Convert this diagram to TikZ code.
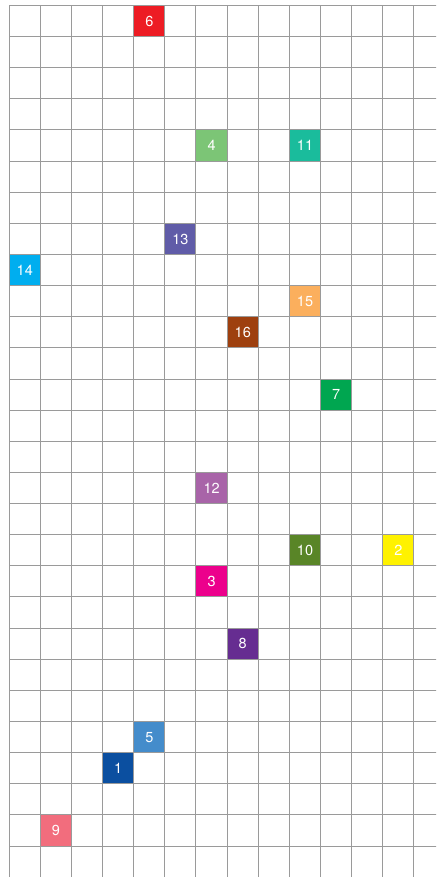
\documentclass[tikz,border=0pt]{standalone}
\usepackage{fontspec}
\setmainfont{TeX Gyre Heros}
\definecolor{gridc}{HTML}{9A9A9A}
\definecolor{c1}{HTML}{0B4FA0}
\definecolor{c2}{HTML}{FFF200}
\definecolor{c3}{HTML}{EC008C}
\definecolor{c4}{HTML}{7CC576}
\definecolor{c5}{HTML}{448CCB}
\definecolor{c6}{HTML}{ED1C24}
\definecolor{c7}{HTML}{00A650}
\definecolor{c8}{HTML}{662D91}
\definecolor{c9}{HTML}{F26D7D}
\definecolor{c10}{HTML}{598527}
\definecolor{c11}{HTML}{1ABC9C}
\definecolor{c12}{HTML}{A864A8}
\definecolor{c13}{HTML}{605CA8}
\definecolor{c14}{HTML}{00AEEF}
\definecolor{c15}{HTML}{FBAF5D}
\definecolor{c16}{HTML}{9E400F}
\begin{document}
\begin{tikzpicture}[x=1pt,y=1pt,
  cellbox/.style={draw=none,minimum size=31.14pt,inner sep=0pt,anchor=north west,
    text=white,font=\fontsize{14.5}{14.5}\selectfont}]
\useasboundingbox (0,0) rectangle (436,-877);
\fill[white] (0,0) rectangle (436,-877);
\def\cs{31.14}
\def\cell#1#2#3{\node[cellbox,fill=c#1] (n#1) at ({9+#2*\cs},{-5.3-#3*\cs}) {#1};}
\cell{6}{4}{0}
\cell{4}{6}{4}
\cell{11}{9}{4}
\cell{13}{5}{7}
\cell{14}{0}{8}
\cell{15}{9}{9}
\cell{16}{7}{10}
\cell{7}{10}{12}
\cell{12}{6}{15}
\cell{10}{9}{17}
\cell{2}{12}{17}
\cell{3}{6}{18}
\cell{8}{7}{20}
\cell{5}{4}{23}
\cell{1}{3}{24}
\cell{9}{1}{26}
\begin{scope}
\clip (0,0) rectangle (436,-877);
\foreach \i in {0,...,14} \draw[gridc,line width=0.95pt] ({9+\i*\cs},-5.3) -- ({9+\i*\cs},-880);
\foreach \j in {0,...,28} \draw[gridc,line width=0.95pt] (9,{-5.3-\j*\cs}) -- (440,{-5.3-\j*\cs});
\end{scope}
\end{tikzpicture}
\end{document}
